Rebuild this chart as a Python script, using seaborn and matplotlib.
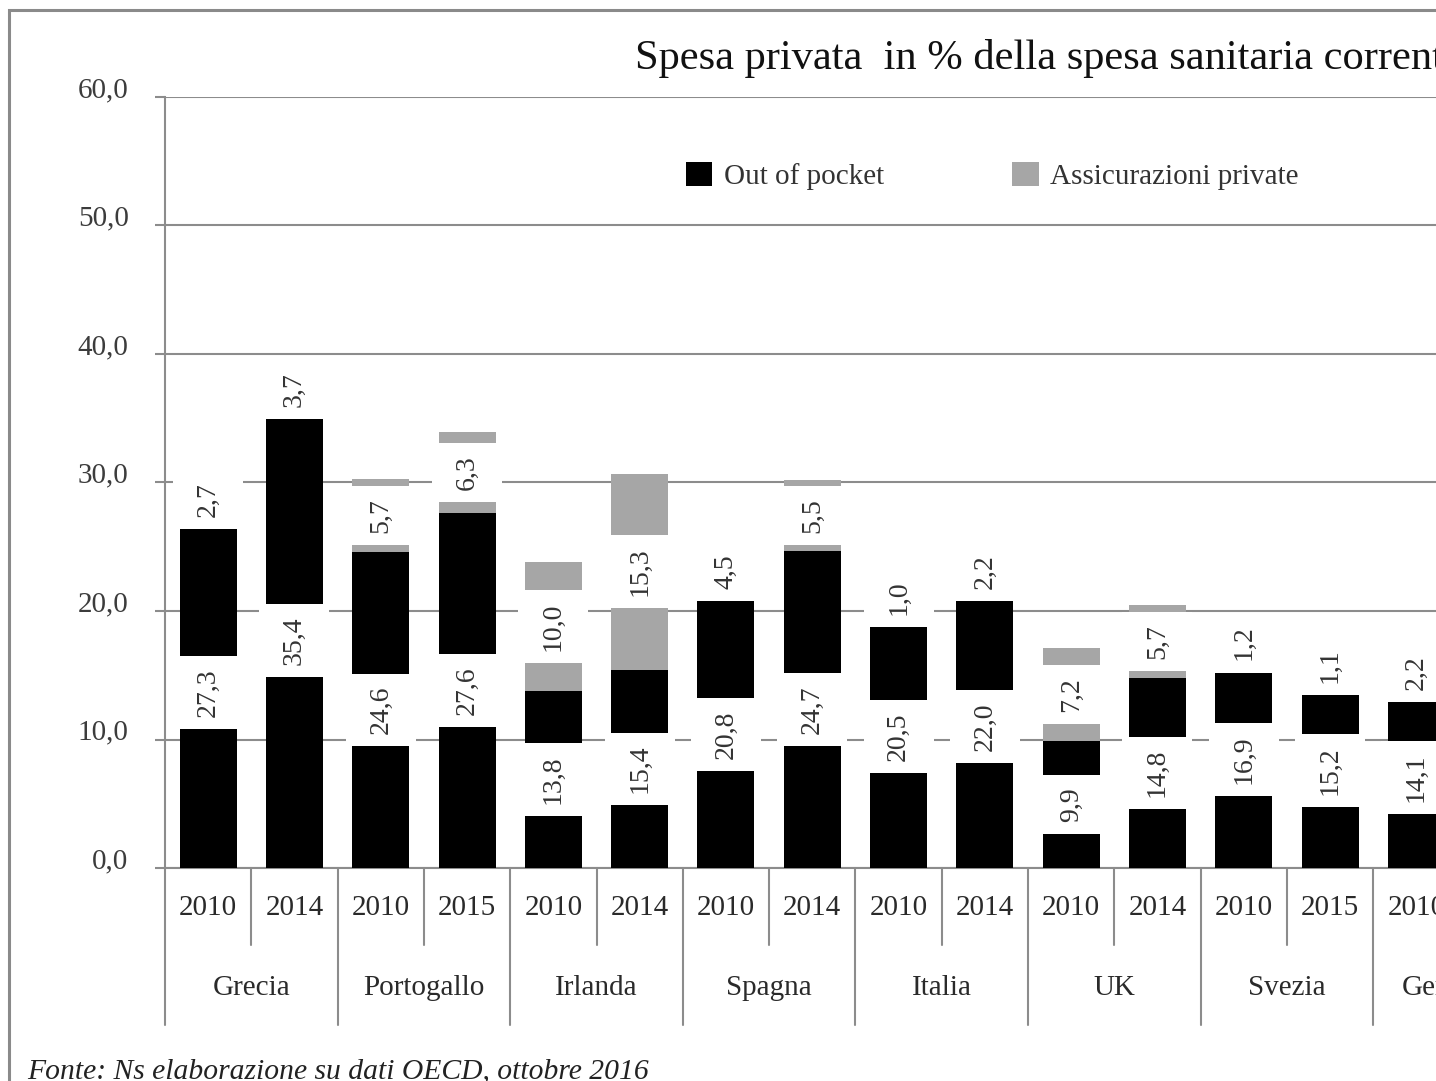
import matplotlib
matplotlib.use('Agg')
import matplotlib.pyplot as plt
from matplotlib.patches import Rectangle, Patch
from matplotlib.transforms import blended_transform_factory
import seaborn as sns
import pandas as pd

# dati (Germania prosegue oltre il bordo destro)
countries = ['Grecia', 'Portogallo', 'Irlanda', 'Spagna', 'Italia', 'UK', 'Svezia', 'Germania']
years = [['2010', '2014'], ['2010', '2015'], ['2010', '2014'], ['2010', '2014'],
         ['2010', '2014'], ['2010', '2014'], ['2010', '2015'], ['2010']]
group_slots = [2, 2, 2, 2, 2, 2, 2, 2]
out_of_pocket = [27.3, 35.4, 24.6, 27.6, 13.8, 15.4, 20.8, 24.7, 20.5, 22.0, 9.9, 14.8, 16.9, 15.2, 14.1]
assicurazioni = [2.7, 3.7, 5.7, 6.3, 10.0, 15.3, 4.5, 5.5, 1.0, 2.2, 7.2, 5.7, 1.2, 1.1, 2.2]
y_ticks = [0, 10, 20, 30, 40, 50, 60]

BLACK = '#000000'
GREY = '#a6a6a6'
GRID = '#8c8c8c'
TXT = '#2a2a2a'

slots = [f'{c} {y}' for c, ys in zip(countries, years) for y in ys]
year_labels = [y for ys in years for y in ys]
df = pd.DataFrame({'slot': slots, 'oop': out_of_pocket, 'ins': assicurazioni})
df['totale'] = df['oop'] + df['ins']

def fmt(v):
    return f'{v:.1f}'.replace('.', ',')

sns.set_style('white')
plt.rcParams['font.family'] = ['Liberation Serif', 'DejaVu Serif']

W, H = 1436, 1081
fig = plt.figure(figsize=(W / 100, H / 100), dpi=100)
ax = fig.add_axes([165 / W, (H - 868) / H, (W - 165) / W, (868 - 97) / H])

sns.barplot(data=df, x='slot', y='totale', order=slots, color=GREY, saturation=1,
            width=0.66, errorbar=None, linewidth=0, ax=ax, zorder=2)
sns.barplot(data=df, x='slot', y='oop', order=slots, color=BLACK, saturation=1,
            width=0.66, errorbar=None, linewidth=0, ax=ax, zorder=3)

slot_px = 86.3
ax.set_xlim(-0.5, -0.5 + (W - 165) / slot_px)
ax.set_ylim(0, 60)
ax.set_xlabel('')
ax.set_ylabel('')
ax.set_xticks([])

ax.set_axisbelow(True)
ax.yaxis.grid(True, color=GRID, lw=1.5)
ax.set_yticks(y_ticks)
ax.set_yticklabels([fmt(v) for v in y_ticks])
ax.tick_params(axis='y', left=True, length=7.2, width=1.5, color=GRID,
               pad=19, labelsize=21, labelcolor='#3c3c3c')
for lab in ax.get_yticklabels():
    lab.set_verticalalignment('baseline')

for s in ['top', 'right']:
    ax.spines[s].set_visible(False)
for s in ['left', 'bottom']:
    ax.spines[s].set_color(GRID)
    ax.spines[s].set_linewidth(1.5)

# etichette a due livelli sotto l'asse
tr = blended_transform_factory(ax.transData, ax.transAxes)
short_y = (868 - 945) / 771
long_y = (868 - 1025) / 771
for i, y in enumerate(year_labels):
    ax.text(i, (868 - 908) / 771, y, transform=tr, ha='center', va='center',
            fontsize=21, color=TXT, clip_on=False)
start = -0.5
for c, n in zip(countries, group_slots):
    ax.plot([start, start], [0, long_y], transform=tr, color=GRID, lw=1.5, clip_on=False)
    for k in range(1, n):
        ax.plot([start + k, start + k], [0, short_y], transform=tr, color=GRID,
                lw=1.5, clip_on=False)
    ax.text(start + n / 2, (868 - 988) / 771, c, transform=tr, ha='center', va='center',
            fontsize=21, color=TXT, clip_on=False)
    start += n

# etichette dei valori, ruotate, su sfondo bianco
texts = []
for i, (o, a) in enumerate(zip(out_of_pocket, assicurazioni)):
    for yc, v in [(o / 2, o), (o + a / 2, a)]:
        t = ax.text(i, yc, fmt(v), rotation=90, ha='center', va='center',
                    fontsize=20, color='#333333', zorder=6)
        texts.append((i, t))

fig.canvas.draw()
rend = fig.canvas.get_renderer()
inv = ax.transData.inverted()
for i, t in texts:
    bb = t.get_window_extent(rend)
    y0 = inv.transform((0, bb.y0 - 12))[1]
    y1 = inv.transform((0, bb.y1 + 12))[1]
    ax.add_patch(Rectangle((i - 0.405, y0), 0.81, y1 - y0, facecolor='white',
                           edgecolor='none', zorder=5))

# legenda
handles = [Patch(facecolor=BLACK, edgecolor='none'), Patch(facecolor=GREY, edgecolor='none')]
fig.legend(handles, ['Out of pocket', 'Assicurazioni private'], ncol=2, frameon=False,
           loc='upper left', bbox_to_anchor=(686 / W, 1 - 162 / H), fontsize=21,
           handlelength=0.9, handleheight=0.9, handletextpad=0.4, columnspacing=4.4,
           borderpad=0, borderaxespad=0, labelcolor='#333333')

fig.text(635 / W, 1 - 58 / H, 'Spesa privata  in % della spesa sanitaria corrente',
         ha='left', va='center', fontsize=30.6, color='#111111')
fig.text(27 / W, 1 - 1078 / H, 'Fonte: Ns elaborazione su dati OECD, ottobre 2016',
         ha='left', va='baseline', fontsize=21.3, style='italic', color='#222222')

# cornice grigia della figura
fig.add_artist(Rectangle((9 / W, -0.05), 1.2, (H - 10) / H + 0.05, transform=fig.transFigure,
                         fill=False, edgecolor='#8a8a8a', lw=2.2, clip_on=False))

fig.savefig('out.png', dpi=100)
